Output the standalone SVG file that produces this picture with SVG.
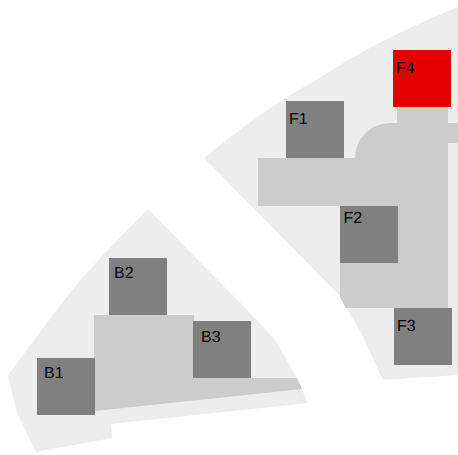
<svg xmlns="http://www.w3.org/2000/svg" width="458" height="455" viewBox="0 0 458 455">
<style>
.zone{fill:#ededed}
.area{fill:#cccccc}
.box{fill:#808080}
.hot{fill:#e00000}
text{font-family:"Liberation Sans",Arial,sans-serif;font-size:16px;fill:#000;text-rendering:geometricPrecision}
</style>
<rect width="458" height="455" fill="#ffffff"/>
<g id="zones">
<path class="zone" d="M204 158 Q245 124 290 95 Q325 75 353 57 Q405 28 458 7 L458 375 L383 380 L362 335 L340 296 Z"/>
<path class="zone" d="M148 209 L250 313 Q265 328 277 343 L297 378 L308 403 L111 424 L112 438 L36 452 L17 413 L8 375 L49 320 Q72 289 100 258 Z"/>
<path class="area" d="M258 158 H355 A35 35 0 0 1 390 123 H397 V107 H448 V123 H458 V143 H448 V308 H346 L340 297 V206 H258 Z"/>
<path class="area" d="M94 315 H194 V378 H297 L302 389 L95 411 H94 Z"/>
</g>
<g id="F1"><rect class="box" x="286" y="101" width="58" height="57"/><text x="289" y="123.5">F1</text></g>
<g id="F2"><rect class="box" x="340" y="206" width="58" height="57"/><text x="343.500" y="222.500">F2</text></g>
<g id="F3"><rect class="box" x="394" y="308" width="58" height="57"/><text x="397" y="330.500">F3</text></g>
<g id="F4"><rect class="hot" x="393" y="50" width="58" height="57"/><text x="396" y="72.500">F4</text></g>
<g id="B1"><rect class="box" x="37" y="358" width="58" height="57"/><text x="44" y="377.500">B1</text></g>
<g id="B2"><rect class="box" x="109" y="258" width="58" height="57"/><text x="114" y="277.500">B2</text></g>
<g id="B3"><rect class="box" x="193" y="321" width="58" height="57"/><text x="201" y="341.500">B3</text></g>
<g id="connectors"></g>
</svg>
